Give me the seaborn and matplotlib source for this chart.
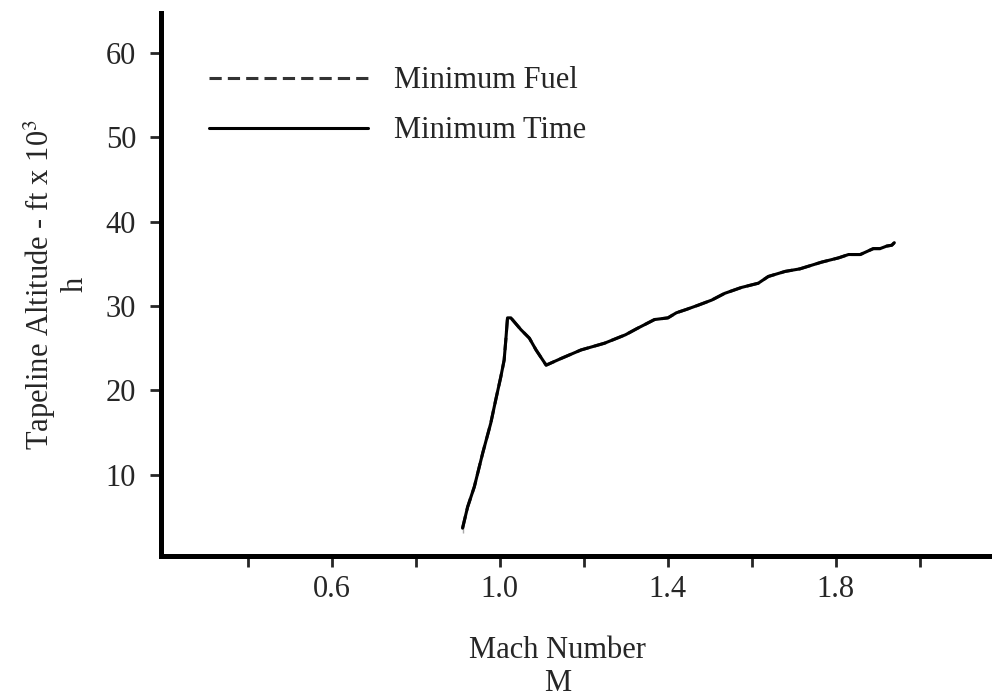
import matplotlib
matplotlib.use("Agg")
import matplotlib.pyplot as plt
import seaborn as sns
import pandas as pd

# Mach number / tapeline altitude (ft x 10^3)
mach = [0.912, 0.912, 0.924, 0.940, 0.960, 0.979, 0.991, 1.003, 1.011, 1.015,
        1.019, 1.027, 1.051, 1.071, 1.087, 1.111, 1.147, 1.194, 1.250, 1.300,
        1.326, 1.369, 1.401, 1.421, 1.445, 1.473, 1.505, 1.536, 1.576, 1.616,
        1.640, 1.680, 1.715, 1.767, 1.807, 1.831, 1.859, 1.890, 1.906, 1.922,
        1.934, 1.940]
alt = [3.1, 4.3, 6.2, 8.6, 12.6, 16.1, 18.9, 21.6, 23.6, 26.0,
       28.6, 28.6, 27.2, 26.2, 24.8, 23.0, 23.8, 24.8, 25.6, 26.6,
       27.3, 28.4, 28.6, 29.2, 29.6, 30.1, 30.7, 31.5, 32.2, 32.7,
       33.5, 34.1, 34.4, 35.2, 35.7, 36.1, 36.1, 36.8, 36.8, 37.1,
       37.2, 37.5]

major_x = [0.6, 1.0, 1.4, 1.8]
minor_x = [0.4, 0.8, 1.2, 1.6, 2.0]
y_ticks = [10, 20, 30, 40, 50, 60]

df = pd.DataFrame({"M": mach, "h": alt})

sns.set_style("white")
plt.rcParams["font.family"] = ["Liberation Serif", "DejaVu Serif"]
plt.rcParams["mathtext.fontset"] = "stix"

fig = plt.figure(figsize=(9.92, 6.94), dpi=100)
ax = fig.add_axes([0.1623, 0.1988, 0.84, 0.7825])

# the two trajectories coincide: fuel (dashed) underneath, time (solid) on top
sns.lineplot(data=df, x="M", y="h", sort=False, ax=ax, color="#333333",
             linestyle=(0, (4, 2)), linewidth=2.2, label="Minimum Fuel")
sns.lineplot(data=df, x="M", y="h", sort=False, ax=ax, color="black",
             linewidth=2.2, label="Minimum Time")

ax.set_xlim(0.194, 2.178)
ax.set_ylim(0.4, 64.7)

ax.set_xticks(major_x)
ax.set_xticklabels(["0.6", "1.0", "1.4", "1.8"])
ax.set_xticks(minor_x, minor=True)
ax.set_yticks(y_ticks)
ax.tick_params(axis="x", which="both", direction="out", length=8, width=2,
               labelsize=22, pad=6, bottom=True)
ax.tick_params(axis="y", which="both", direction="out", length=8, width=2,
               labelsize=22, pad=10, left=True)

for side in ["top", "right"]:
    ax.spines[side].set_visible(False)
for side in ["left", "bottom"]:
    ax.spines[side].set_linewidth(3.6)
    ax.spines[side].set_color("black")

ax.set_xlabel("Mach Number\nM", fontsize=22, linespacing=1.18)
ax.xaxis.set_label_coords(0.476, -0.147)
ax.set_ylabel("Tapeline Altitude - ft x 10$^3$\nh", fontsize=22,
              linespacing=1.16)
ax.yaxis.set_label_coords(-0.085, 0.5)

leg = ax.legend(loc="upper left", bbox_to_anchor=(0.058, 0.902), frameon=False,
                fontsize=22, handlelength=5.2, handletextpad=0.85,
                labelspacing=0.69, borderpad=0, borderaxespad=0)
for line in leg.get_lines():
    line.set_linewidth(2.2)

fig.savefig("out.png", dpi=100)
